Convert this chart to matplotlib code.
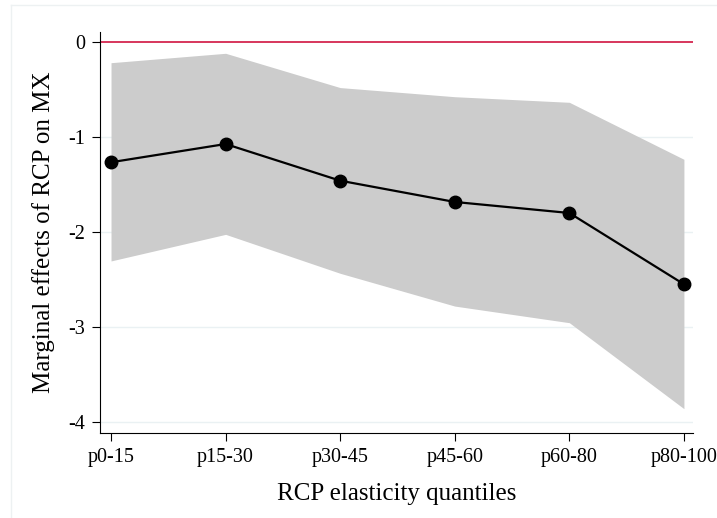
import numpy as np
import matplotlib.pyplot as plt
from matplotlib.lines import Line2D

plt.rcParams['font.family'] = ['Liberation Serif', 'DejaVu Serif']

# Data
quantiles = ['p0-15', 'p15-30', 'p30-45', 'p45-60', 'p60-80', 'p80-100']
effect = [-1.266, -1.074, -1.46, -1.684, -1.80, -2.55]
ci_upper = [-0.218, -0.119, -0.48, -0.576, -0.635, -1.235]
ci_lower = [-2.305, -2.025, -2.435, -2.78, -2.955, -3.86]
yticks = [0, -1, -2, -3, -4]

x = np.arange(len(quantiles))

fig = plt.figure(figsize=(7.17, 5.18), dpi=100)
ax = fig.add_axes([0.1395, 0.1641, 0.827, 0.7741])

# faint outer frame of the graph region
fig.add_artist(Line2D([11/717, 11/717], [0, 1 - 5/518], color='#edf1f2', lw=1))
fig.add_artist(Line2D([11/717, 1], [1 - 5/518, 1 - 5/518], color='#edf1f2', lw=1))

for t in yticks[1:]:
    ax.axhline(t, color='#eaf1f3', lw=1, zorder=0)

ax.fill_between(x, ci_lower, ci_upper, color='#cccccc', lw=0, zorder=1)
ax.axhline(0, color='#d4264f', lw=1.3, zorder=2)
ax.plot(x, effect, color='black', lw=1.6, marker='o', markersize=9, zorder=3)

ax.set_xlim(-0.096, 5.079)
ax.set_ylim(-4.116, 0.105)
ax.set_xticks(x)
ax.set_xticklabels(quantiles)
ax.set_yticks(yticks)
ax.set_yticklabels([str(t) for t in yticks])
ax.tick_params(labelsize=14.5, length=5.5, width=0.8, color='black', pad=5)

ax.spines['top'].set_visible(False)
ax.spines['right'].set_visible(False)
ax.spines['left'].set_linewidth(0.8)
ax.spines['bottom'].set_linewidth(0.8)

ax.set_xlabel('RCP elasticity quantiles', fontsize=18, labelpad=12)
ax.set_ylabel('Marginal effects of RCP on MX', fontsize=18, labelpad=10)

fig.savefig('out.png', dpi=100)
